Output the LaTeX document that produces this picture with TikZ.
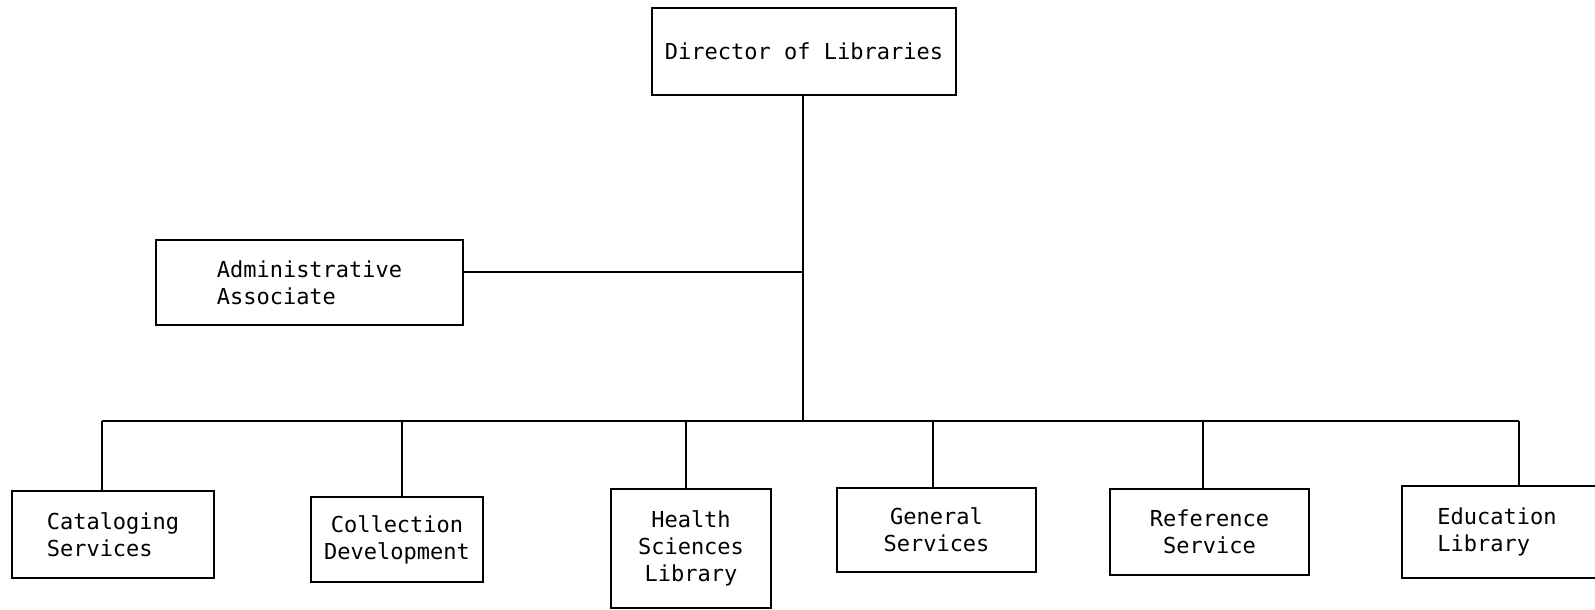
\documentclass[tikz,border=0pt]{standalone}
\usepackage{fontspec}
\newfontfamily\orgmono{DejaVu Sans Mono}
\begin{document}
\begin{tikzpicture}[x=0.5pt,y=-0.5pt,
  orgbox/.style={draw, line width=1pt, inner sep=0pt, align=center,
    font=\orgmono\fontsize{11}{13.5}\selectfont},
  link/.style={line width=1pt}]
\clip (0,0) rectangle (1595,610);
\fill[white] (0,0) rectangle (1595,610);
% boxes
\node[orgbox, minimum width=152pt, minimum height=43.5pt] (dir) at (804,51.5) {Director of Libraries};
\node[orgbox, align=left, minimum width=153.5pt, minimum height=42.5pt] (adm) at (309.5,282.5) {Administrative\\Associate};
\node[orgbox, align=left, minimum width=101pt, minimum height=43.5pt] (cat) at (113,534.5) {Cataloging\\Services};
\node[orgbox, minimum width=86pt, minimum height=42.5pt] (col) at (397,539.5) {Collection\\Development};
\node[orgbox, minimum width=80pt, minimum height=59.5pt] (hea) at (691,548.5) {Health\\Sciences\\Library};
\node[orgbox, minimum width=99.5pt, minimum height=42pt] (gen) at (936.5,530) {General\\Services};
\node[orgbox, minimum width=99.5pt, minimum height=43pt] (ref) at (1209.5,532) {Reference\\Service};
\node[orgbox, align=left, minimum width=104pt, minimum height=46pt] (edu) at (1506,532) {Education\hspace*{9pt}\\Library};
% bus coordinates
\coordinate (j) at (802.6,421);
\coordinate (d1) at (101.7,421);
\coordinate (d2) at (401.8,421);
\coordinate (d3) at (685.6,421);
\coordinate (d4) at (932.8,421);
\coordinate (d5) at (1203.4,421);
\coordinate (d6) at (1518.7,421);
% connectors
\draw[link] (dir.south -| j) -- (j);
\draw[link] ([yshift=5.5pt]adm.east) -- ([yshift=5.5pt]adm.east -| j);
\draw[link] (d1) -- (d6);
\draw[link] (d1) -- (d1 |- cat.north);
\draw[link] (d2) -- (d2 |- col.north);
\draw[link] (d3) -- (d3 |- hea.north);
\draw[link] (d4) -- (d4 |- gen.north);
\draw[link] (d5) -- (d5 |- ref.north);
\draw[link] (d6) -- (d6 |- edu.north);
\end{tikzpicture}
\end{document}
